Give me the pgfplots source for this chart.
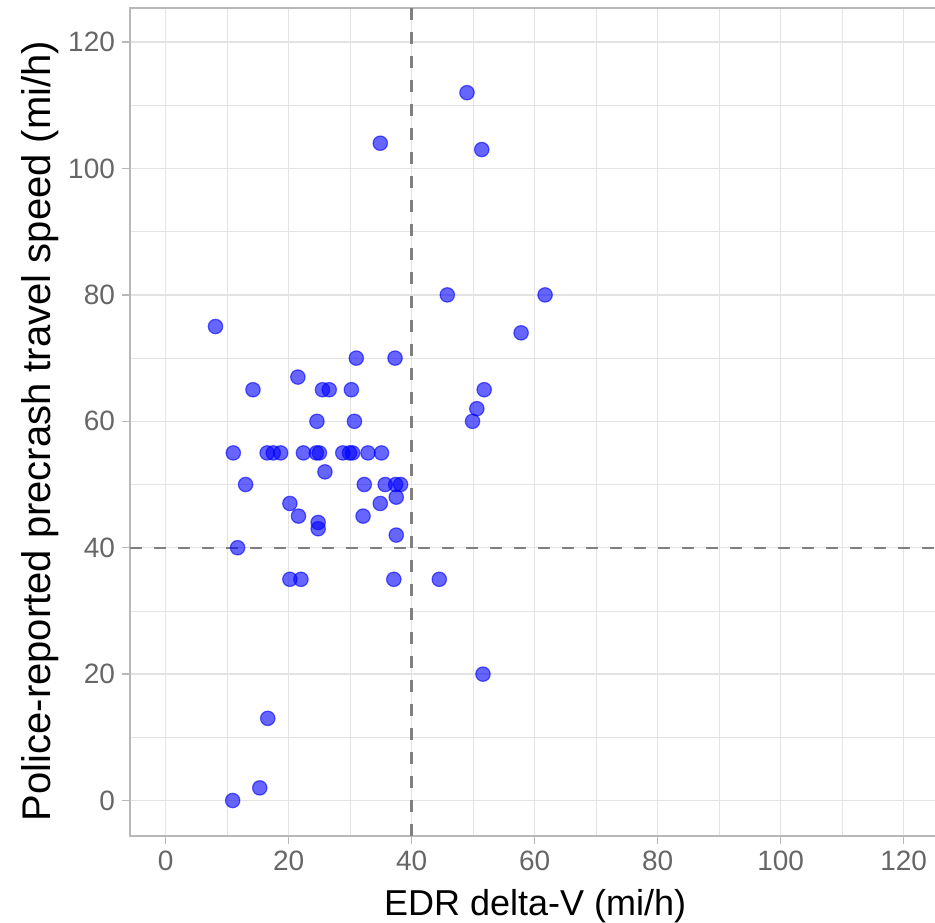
\documentclass[border=0pt]{standalone}
\usepackage{fontspec}
\setmainfont{Liberation Sans}
\usepackage{pgfplots}
\pgfplotsset{compat=1.18}

\definecolor{gridgray}{HTML}{E3E3E3}
\definecolor{framegray}{HTML}{B8B8B8}
\definecolor{ticktext}{HTML}{666666}
\definecolor{refline}{HTML}{808080}

\begin{document}
\begin{tikzpicture}
\begin{axis}[
  scale only axis,
  width=405.3pt, height=414pt,
  xmin=-5.8, xmax=126, ymin=-5.6, ymax=125.4,
  xtick={0,20,40,60,80,100,120},
  ytick={0,20,40,60,80,100,120},
  minor xtick={10,30,50,70,90,110},
  minor ytick={10,30,50,70,90,110},
  grid=both,
  major grid style={gridgray, line width=0.7pt},
  minor grid style={gridgray, line width=0.4pt},
  axis line style={framegray, line width=0.9pt},
  tick align=outside, tick pos=left,
  major tick length=4pt, minor tick length=0pt,
  every tick/.style={framegray, line width=0.7pt},
  tick label style={font=\fontsize{14}{16}\selectfont, text=ticktext},
  /pgf/number format/assume math mode=true,
  xlabel={EDR delta-V (mi/h)},
  ylabel={Police-reported precrash travel speed (mi/h)},
  xlabel style={font=\fontsize{18}{21}\selectfont,
    at={(axis description cs:0.5,0)}, anchor=center, yshift=-35pt},
  ylabel style={font=\fontsize{20}{23}\selectfont,
    at={(axis description cs:0,0.5)}, anchor=center, yshift=45pt, xshift=-4.5pt},
  clip=true,
]
% reference lines at 40 mi/h
\addplot[refline, line width=1.2pt, dash pattern=on 6pt off 6pt] coordinates {(40,-5.6)(40,125.4)};
\addplot[refline, line width=1.2pt, dash pattern=on 6pt off 6pt] coordinates {(-5.8,40)(126,40)};

\addplot[only marks, mark=*, mark size=3.6pt,
  mark options={draw=blue, fill=blue, fill opacity=0.6, draw opacity=0.6, line width=0.6pt}]
coordinates {
  (8.1,75)
  (31.0,70) (37.3,70)
  (21.5,67)
  (14.2,65) (25.5,65) (26.6,65) (30.2,65)
  (24.6,60) (30.7,60)
  (11.0,55) (16.5,55) (17.5,55) (18.7,55) (22.4,55) (24.5,55) (25.0,55)
  (28.8,55) (29.9,55) (30.4,55) (32.9,55) (35.1,55)
  (25.9,52)
  (13.0,50) (32.3,50) (35.7,50) (37.4,50) (38.2,50)
  (37.5,48)
  (20.2,47) (34.9,47)
  (21.6,45) (32.1,45)
  (24.8,44) (24.8,43)
  (37.5,42)
  (11.7,40)
  (20.2,35) (22.0,35) (37.1,35) (44.5,35)
  (16.6,13) (15.3,2) (10.9,0)
  (49.0,112) (51.4,103) (34.9,104)
  (45.8,80) (61.7,80) (57.8,74)
  (51.8,65) (50.6,62) (49.9,60)
  (51.6,20)
};
\end{axis}
\pgfresetboundingbox
\path[use as bounding box] ([shift={(-65pt,-43.5pt)}]current axis.south west)
  rectangle ([shift={(-2.75pt,4pt)}]current axis.north east);
\end{tikzpicture}
\end{document}
